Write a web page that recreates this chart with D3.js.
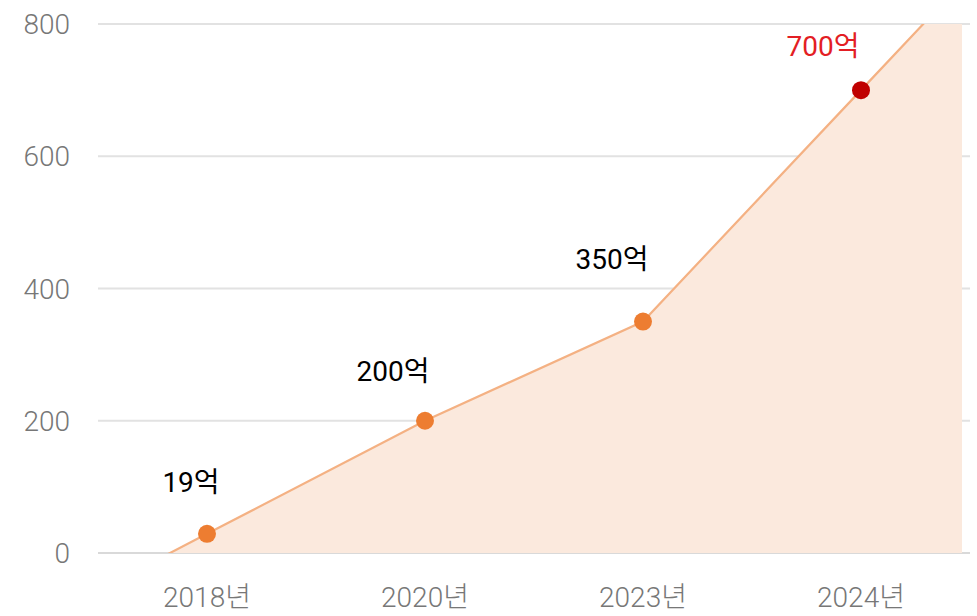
<!DOCTYPE html>
<html>
<head>
<meta charset="utf-8">
<script src="https://cdn.jsdelivr.net/npm/d3@7"></script>
<style>
  body { margin: 0; background: #fff; }
  text { font-family: Roboto, 'Noto Sans CJK KR', sans-serif; }
</style>
</head>
<body>
<div id="chart"></div>
<script>
const years = ['2018년', '2020년', '2023년', '2024년'];
const values = [29, 200, 350, 700];
const labels = ['19억', '200억', '350억', '700억'];
const yTicks = [0, 200, 400, 600, 800];

// hand placed label offsets (px) relative to each point
const labelOffsets = [[-16, -42], [-32, -40], [-31, -53], [-38, -34]];

const width = 977, height = 616;
const plot = { left: 98, right: 970, top: 24, bottom: 553, fillRight: 962 };

const svg = d3.select('#chart').append('svg')
  .attr('width', width)
  .attr('height', height);

const x = d3.scalePoint().domain(years).range([plot.left, plot.right]).padding(0.5);
const y = d3.scaleLinear().domain([0, 800]).range([plot.bottom, plot.top]);

// grid
svg.append('g').selectAll('line')
  .data(yTicks).enter().append('line')
  .attr('x1', plot.left).attr('x2', plot.right)
  .attr('y1', d => y(d)).attr('y2', d => y(d))
  .attr('stroke', d => d === 0 ? '#d9d9d9' : '#e2e2e2')
  .attr('stroke-width', 2);

svg.append('g').selectAll('text')
  .data(yTicks).enter().append('text')
  .attr('x', 70).attr('y', d => y(d))
  .attr('dy', '0.36em')
  .attr('text-anchor', 'end')
  .attr('fill', '#777')
  .style('font-size', '28px')
  .style('font-weight', 300)
  .text(d => d);

svg.append('g').selectAll('text')
  .data(years).enter().append('text')
  .attr('x', d => x(d)).attr('y', 607)
  .attr('text-anchor', 'middle')
  .attr('fill', '#777')
  .style('font-size', '28px')
  .style('font-weight', 300)
  .text(d => d);

// extend the first and last segments to the plot edges
const step = x.step();
const pts = years.map((c, i) => [x(c), y(values[i])]);
const n = pts.length;
const ext = (a, b, px) => [px, a[1] + (b[1] - a[1]) * (px - a[0]) / (b[0] - a[0])];
const full = [ext(pts[0], pts[1], x(years[0]) - step / 2), ...pts,
              ext(pts[n - 2], pts[n - 1], x(years[n - 1]) + step / 2)];

const defs = svg.append('defs');
defs.append('clipPath').attr('id', 'plot')
  .append('rect')
  .attr('x', plot.left).attr('y', plot.top)
  .attr('width', plot.fillRight - plot.left).attr('height', plot.bottom - plot.top);

const area = d3.area().x(d => d[0]).y0(plot.bottom).y1(d => d[1]);
const line = d3.line().x(d => d[0]).y(d => d[1]);

const g = svg.append('g').attr('clip-path', 'url(#plot)');
g.append('path').datum(full)
  .attr('d', area)
  .attr('fill', '#fbe9dd');
g.append('path').datum(full)
  .attr('d', line)
  .attr('fill', 'none')
  .attr('stroke', '#f4b183')
  .attr('stroke-width', 2.2);

svg.append('g').selectAll('circle')
  .data(pts).enter().append('circle')
  .attr('cx', d => d[0]).attr('cy', d => d[1])
  .attr('r', 9)
  .attr('fill', (d, i) => i === n - 1 ? '#c00000' : '#ed7d31');

svg.append('g').selectAll('text')
  .data(labels).enter().append('text')
  .attr('x', (d, i) => pts[i][0] + labelOffsets[i][0])
  .attr('y', (d, i) => pts[i][1] + labelOffsets[i][1])
  .attr('text-anchor', 'middle')
  .attr('fill', (d, i) => i === n - 1 ? '#e31e24' : '#000')
  .style('font-size', '28px')
  .text(d => d);
</script>
</body>
</html>
